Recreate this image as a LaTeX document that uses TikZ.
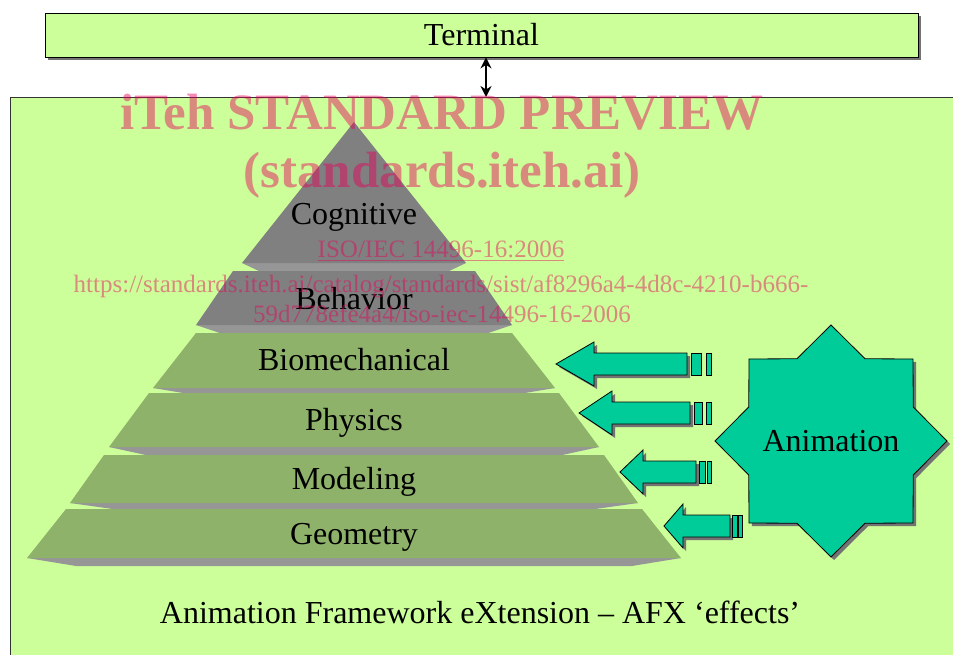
\documentclass[tikz,border=0pt]{standalone}
\usepackage{fontspec}
\setmainfont{Liberation Serif}
\usetikzlibrary{positioning,arrows.meta,shadows}
\definecolor{panel}{HTML}{CCFF99}
\definecolor{layergreen}{HTML}{8FB26B}
\definecolor{layergray}{HTML}{808080}
\definecolor{bandgray}{HTML}{969696}
\definecolor{effect}{HTML}{00CC99}
\definecolor{stamp}{RGB}{232,0,91}

\tikzset{
  boxshadow/.style={drop shadow={shadow xshift=3pt,shadow yshift=-3pt,fill=black!55,opacity=1}},
  layertext/.style={font=\fontsize{32}{32}\selectfont, inner sep=0pt, anchor=base},
  stamptext/.style={text=stamp, text opacity=0.46, inner sep=0pt, anchor=base},
  effectarrow/.style={fill=effect, draw=black, line width=0.8pt, line join=miter},
}

\begin{document}
\begin{tikzpicture}[x=1pt, y=-1pt]
  \useasboundingbox (0,0) rectangle (953,655);
  \clip (0,0) rectangle (953,655);

  % terminal bar and the framework panel
  \node[draw, line width=0.8pt, fill=panel, boxshadow, minimum width=873pt, minimum height=44pt,
        inner sep=0pt, font=\fontsize{32}{32}\selectfont] (terminal) at (481.5,35) {Terminal};
  \node[draw=black!80, line width=1pt, fill=panel, minimum width=960pt, minimum height=580pt,
        anchor=north west, inner sep=0pt] (afx) at (10,97) {};
  \draw[line width=2.2pt, {Stealth[length=11pt,width=11pt]}-{Stealth[length=11pt,width=11pt]}]
    ([xshift=4.5pt]terminal.south) -- ([xshift=4.5pt]terminal.south |- afx.north);

  % pyramid: top y / top half width / bottom y / bottom half width / band y / colour / name / text baseline / text
  \foreach \tl/\th/\bl/\bh/\bb/\col/\name/\base/\txt in {
      122/0/263/112/271/layergray/cognitive/225/Cognitive,
      271/121/325/158/333/layergray/behavior/309/Behavior,
      333/158/388/201/393/layergreen/biomech/370/Biomechanical,
      393/205/447/245/455/layergreen/physics/430/Physics,
      455/250/503/284/509/layergreen/modeling/489/Modeling,
      509/288/558/327/566/layergreen/geometry/544/Geometry}{
    \fill[bandgray] (354-\bh,\bl) -- (354+\bh,\bl) -- (354+0.85*\bh,\bb) -- (354-0.85*\bh,\bb) -- cycle;
    \fill[\col] (354-\th,\tl) -- (354+\th,\tl) -- (354+\bh,\bl) -- (354-\bh,\bl) -- cycle;
    \node[layertext] (\name) at (354,\base) {\txt};
  }

  % striped arrows: tip / middle / head back / shaft end / stripes
  \foreach \tip/\ym/\back/\tail/\sa/\sb/\sc/\sd in {
      556/364/594/687/691/701/706/711,
      579/413/612/690/694/702/706/711,
      620/472/643/696/699/705/707/711,
      664/526/683/730/732/737/738/742}{
    \draw[effectarrow, boxshadow] (\tip,\ym) -- (\back,\ym-22) -- (\back,\ym-11) -- (\tail,\ym-11)
      -- (\tail,\ym+11) -- (\back,\ym+11) -- (\back,\ym+22) -- cycle;
    \draw[effectarrow] (\sa,\ym-11) rectangle (\sb,\ym+11);
    \draw[effectarrow] (\sc,\ym-11) rectangle (\sd,\ym+11);
  }

  % eight pointed star
  \draw[effectarrow, boxshadow, shift={(831,441)}]
    (0:116) \foreach \k in {0,...,7}{ -- (\k*45:116) -- (\k*45+22.5:89) } -- cycle;
  \node[font=\fontsize{32}{32}\selectfont, inner sep=0pt] (animation) at (831,441) {Animation};

  \node[layertext] (caption) at (480,623) {Animation Framework eXtension -- AFX `effects'};

  % preview stamp
  \node[stamptext, font=\fontsize{51}{51}\selectfont\bfseries] (stampa) at (442,130) {iTeh STANDARD PREVIEW};
  \node[stamptext, font=\fontsize{51}{51}\selectfont\bfseries] (stampb) at (442,188) {(standards.iteh.ai)};
  \node[stamptext, font=\fontsize{25}{25}\selectfont] (stampc) at (441,258) {\underline{ISO/IEC 14496-16:2006}};
  \node[stamptext, font=\fontsize{25}{25}\selectfont] (stampd) at (441,292) {https://standards.iteh.ai/catalog/standards/sist/af8296a4-4d8c-4210-b666-};
  \node[stamptext, font=\fontsize{25}{25}\selectfont] (stampe) at (442,322) {59d778efe4a4/iso-iec-14496-16-2006};
\end{tikzpicture}
\end{document}
